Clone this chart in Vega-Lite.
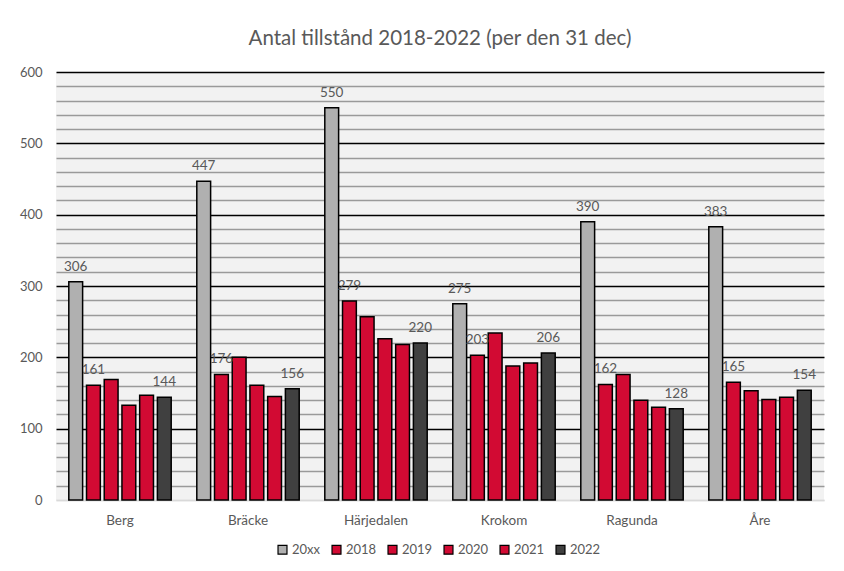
{
  "$schema": "https://vega.github.io/schema/vega-lite/v6.json",
  "width": 768,
  "height": 428,
  "padding": {"left": 19, "top": 28, "right": 19, "bottom": 10},
  "background": "white",
  "title": {"text": "Antal tillstånd 2018-2022 (per den 31 dec)", "fontSize": 20.5, "fontWeight": "normal", "color": "#595959", "offset": 17, "font": "Lato"},
  "data": {"values": [
    {"kommun": "Berg", "serie": "20xx", "value": 306},
    {"kommun": "Berg", "serie": "2018", "value": 161},
    {"kommun": "Berg", "serie": "2019", "value": 169},
    {"kommun": "Berg", "serie": "2020", "value": 133},
    {"kommun": "Berg", "serie": "2021", "value": 147},
    {"kommun": "Berg", "serie": "2022", "value": 144},
    {"kommun": "Bräcke", "serie": "20xx", "value": 447},
    {"kommun": "Bräcke", "serie": "2018", "value": 176},
    {"kommun": "Bräcke", "serie": "2019", "value": 200},
    {"kommun": "Bräcke", "serie": "2020", "value": 161},
    {"kommun": "Bräcke", "serie": "2021", "value": 145},
    {"kommun": "Bräcke", "serie": "2022", "value": 156},
    {"kommun": "Härjedalen", "serie": "20xx", "value": 550},
    {"kommun": "Härjedalen", "serie": "2018", "value": 279},
    {"kommun": "Härjedalen", "serie": "2019", "value": 257},
    {"kommun": "Härjedalen", "serie": "2020", "value": 226},
    {"kommun": "Härjedalen", "serie": "2021", "value": 218},
    {"kommun": "Härjedalen", "serie": "2022", "value": 220},
    {"kommun": "Krokom", "serie": "20xx", "value": 275},
    {"kommun": "Krokom", "serie": "2018", "value": 203},
    {"kommun": "Krokom", "serie": "2019", "value": 234},
    {"kommun": "Krokom", "serie": "2020", "value": 188},
    {"kommun": "Krokom", "serie": "2021", "value": 192},
    {"kommun": "Krokom", "serie": "2022", "value": 206},
    {"kommun": "Ragunda", "serie": "20xx", "value": 390},
    {"kommun": "Ragunda", "serie": "2018", "value": 162},
    {"kommun": "Ragunda", "serie": "2019", "value": 176},
    {"kommun": "Ragunda", "serie": "2020", "value": 140},
    {"kommun": "Ragunda", "serie": "2021", "value": 130},
    {"kommun": "Ragunda", "serie": "2022", "value": 128},
    {"kommun": "Åre", "serie": "20xx", "value": 383},
    {"kommun": "Åre", "serie": "2018", "value": 165},
    {"kommun": "Åre", "serie": "2019", "value": 153},
    {"kommun": "Åre", "serie": "2020", "value": 141},
    {"kommun": "Åre", "serie": "2021", "value": 144},
    {"kommun": "Åre", "serie": "2022", "value": 154}
  ]},
  "encoding": {
    "x": {"field": "kommun", "type": "nominal", "sort": ["Berg", "Bräcke", "Härjedalen", "Krokom", "Ragunda", "Åre"],
      "scale": {"paddingInner": 0.2, "paddingOuter": 0.1},
      "axis": {"title": null, "labelAngle": 0, "ticks": false, "domain": true, "domainColor": "#d9d9d9", "domainWidth": 1.5, "labelPadding": 13, "labelColor": "#595959", "labelFontSize": 13.5, "labelFont": "Lato"}},
    "xOffset": {"field": "serie", "type": "nominal", "sort": ["20xx", "2018", "2019", "2020", "2021", "2022"], "scale": {"paddingInner": 0.22}},
    "y": {"field": "value", "type": "quantitative", "scale": {"domain": [0, 600], "nice": false},
      "axis": {"title": null, "values": [0,20,40,60,80,100,120,140,160,180,200,220,240,260,280,300,320,340,360,380,400,420,440,460,480,500,520,540,560,580,600],
        "labelExpr": "datum.value % 100 === 0 ? datum.label : ''",
        "ticks": false, "domain": false, "grid": true, "gridWidth": 1.6,
        "gridColor": {"condition": [{"test": "datum.value === 0", "value": "#d9d9d9"}, {"test": "datum.value % 100 === 0", "value": "#000000"}], "value": "#9a9a9a"},
        "labelPadding": 14, "labelColor": "#595959", "labelFontSize": 13, "labelFont": "Lato"}}
  },
  "layer": [
    {"mark": {"type": "bar", "stroke": "#000000", "strokeWidth": 1.5},
     "encoding": {"color": {"field": "serie", "type": "nominal", "sort": ["20xx", "2018", "2019", "2020", "2021", "2022"],
       "scale": {"domain": ["20xx", "2018", "2019", "2020", "2021", "2022"], "range": ["#b0b0b0", "#d20a33", "#d20a33", "#d20a33", "#d20a33", "#404040"]},
       "legend": {"title": null, "orient": "none", "direction": "horizontal", "legendX": 220, "legendY": 471, "symbolType": "square", "symbolSize": 80, "symbolStrokeColor": "#000000", "symbolStrokeWidth": 1.2, "symbolOpacity": 1, "labelColor": "#595959", "labelFontSize": 13, "labelFont": "Lato", "columnPadding": 8, "labelOffset": 3}}}},
    {"transform": [{"filter": "datum.serie === '20xx' || datum.serie === '2018' || datum.serie === '2022'"}],
     "mark": {"type": "text", "dy": -15, "color": "#595959", "fontSize": 13.5, "font": "Lato"},
     "encoding": {"text": {"field": "value", "type": "quantitative"}}}
  ],
  "config": {"view": {"fill": "#f2f2f2", "stroke": null}, "font": "Lato"}
}
